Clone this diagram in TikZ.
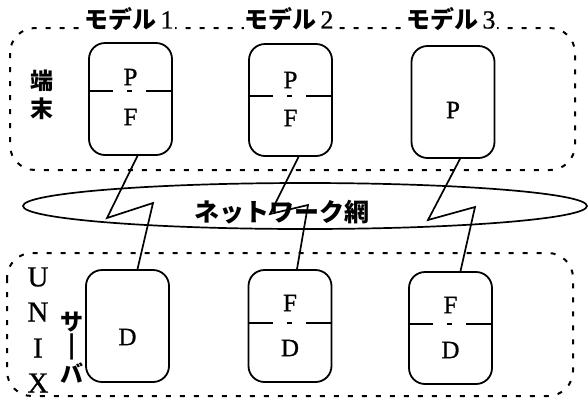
\documentclass[tikz,border=0pt]{standalone}
\usepackage{fontspec}
\setmainfont[FakeBold=0.8]{Liberation Serif}
\newfontfamily\jp{Noto Sans CJK JP}
\usetikzlibrary{shapes.geometric}
\begin{document}
\begin{tikzpicture}[x=1pt,y=-1pt,
  region/.style={draw,line width=2pt,dash pattern=on 5pt off 9pt,rounded corners=25pt},
  unit/.style={draw,line width=1.8pt,rounded corners=16pt,minimum width=83pt,minimum height=112pt,inner sep=0pt},
  divider/.style={line width=1.4pt,dash pattern=on 25pt off 14pt on 5pt off 14pt on 25pt},
  conn/.style={line width=1.7pt},
  lt/.style={font=\fontsize{25}{25}\selectfont,inner sep=0pt},
  ut/.style={font=\fontsize{29}{29}\selectfont,inner sep=0pt},
  jt/.style={font=\jp\bfseries\fontsize{23}{23}\selectfont,inner sep=0pt},
  lab/.style={font=\jp\bfseries\fontsize{24}{24}\selectfont,inner sep=1pt,fill=white}
]
\useasboundingbox (0,0) rectangle (588,400);
% regions
\draw[region] (10,28) rectangle (575,170);
\draw[region] (7,253) rectangle (573,396);
% model labels
\node[lab] (m1) at (129,19) {モデル\,{\rmfamily\mdseries\fontsize{26}{26}\selectfont 1}};
\node[lab] (m2) at (289,19) {モデル\,{\rmfamily\mdseries\fontsize{26}{26}\selectfont 2}};
\node[lab] (m3) at (451,19) {モデル\,{\rmfamily\mdseries\fontsize{26}{26}\selectfont 3}};
% terminal label
\node[jt] (ta) at (42,81) {端};
\node[jt] (tb) at (42,109) {末};
% top units
\node[unit] (t1) at (130.5,99) {};
\node[unit] (t2) at (290.5,100) {};
\node[unit] (t3) at (453,102) {};
\draw[divider] (t1.west |- 0,91) -- (t1.east |- 0,91);
\draw[divider] (t2.west |- 0,96) -- (t2.east |- 0,96);
\node[lt] (t1p) at (130.5,77) {P};
\node[lt] (t1f) at (130.5,117) {F};
\node[lt] (t2p) at (290.5,80) {P};
\node[lt] (t2f) at (290.5,118) {F};
\node[lt] (t3p) at (453,110) {P};
% network
\node[draw,ellipse,line width=1.7pt,minimum width=564pt,minimum height=46pt,inner sep=0pt] (net) at (305,206) {};
\node[font=\jp\bfseries\fontsize{25}{25}\selectfont,inner sep=0pt] (nett) at (282,212) {ネットワーク網};
% bottom units
\node[unit] (s1) at (127.5,326) {};
\node[unit] (s2) at (290,326) {};
\node[unit] (s3) at (450.5,328) {};
\draw[divider] (s2.west |- 0,323) -- (s2.east |- 0,323);
\draw[divider] (s3.west |- 0,324) -- (s3.east |- 0,324);
\node[lt] (s1d) at (127.5,337) {D};
\node[lt] (s2f) at (290,303) {F};
\node[lt] (s2d) at (290,348) {D};
\node[lt] (s3f) at (450.5,305) {F};
\node[lt] (s3d) at (450.5,350) {D};
% UNIX server labels
\node[ut] (u1) at (38,277) {U};
\node[ut] (u2) at (38,312) {N};
\node[ut] (u3) at (38,348) {I};
\node[ut] (u4) at (38,383) {X};
\node[jt] (v1) at (72,322) {サ};
\node[jt] (v2) at (72,347) {|};
\node[jt] (v3) at (72,373) {バ};
% connectors
\draw[conn] ([xshift=7pt]t1.south) -- (107,218) -- (153,203) -- ([xshift=10pt]s1.north);
\draw[conn] ([xshift=8pt]t2.south) -- (270,214) -- (308,205) -- ([xshift=7pt]s2.north);
\draw[conn] ([xshift=7pt]t3.south) -- (428,220) -- (475,207) -- ([xshift=10pt]s3.north);
\end{tikzpicture}
\end{document}
